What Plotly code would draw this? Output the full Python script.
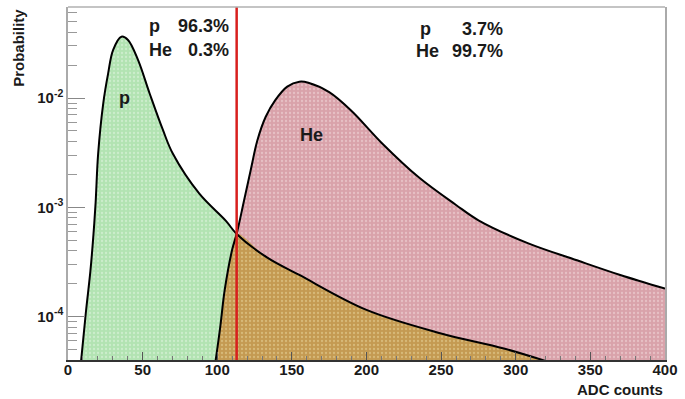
import numpy as np
import plotly.graph_objects as go

# Probability distributions of ADC counts for protons and helium
p_adc = [8.5, 12, 15, 17, 18.5, 20.2, 23.6, 26.9, 30.2, 35.8, 40.2, 46.9, 54.7, 63.6, 70.2,
         88, 105.8, 113, 133, 155, 200, 250, 292, 323]
p_prob = [3.6e-5, 1.1e-4, 2.6e-4, 5.5e-4, 1.1e-3, 3.1e-3, 8.9e-3, 1.68e-2, 2.75e-2, 3.64e-2,
          3.4e-2, 2.23e-2, 1.1e-2, 5.1e-3, 3.1e-3,
          1.33e-3, 7.5e-4, 5.7e-4, 3.5e-4, 2.4e-4, 1.15e-4, 7.0e-5, 5.1e-5, 3.8e-5]

he_adc = [98.5, 102, 105, 110, 113, 118, 122.4, 126.9, 132.4, 139, 146.9, 155, 161, 175, 190,
          210, 235, 260, 275, 308, 341, 370, 400]
he_prob = [3.6e-5, 8e-5, 1.75e-4, 4.1e-4, 5.7e-4, 1.16e-3, 2.18e-3, 4.1e-3, 6.7e-3, 9.6e-3,
           1.27e-2, 1.41e-2, 1.38e-2, 1.13e-2, 7.6e-3, 3.9e-3, 1.88e-3, 1.05e-3, 7.6e-4,
           4.7e-4, 3.27e-4, 2.4e-4, 1.8e-4]

# Selection cut and fractions on each side
x_cut = 113
left_text = [("p", "96.3%"), ("He", "0.3%")]
right_text = [("p", "3.7%"), ("He", "99.7%")]

x_ticks = [0, 50, 100, 150, 200, 250, 300, 350, 400]
y_ticks = [1e-4, 1e-3, 1e-2]
y_ticktext = ["10<sup>-4</sup>", "10<sup>-3</sup>", "10<sup>-2</sup>"]

floor = 1e-5
y_range = [-4.398, -1.167]

# Overlap region: lower envelope of the two curves
ov_x = [x for x in he_adc if x <= x_cut] + [x for x in p_adc if x > x_cut]
ov_y = [y for x, y in zip(he_adc, he_prob) if x <= x_cut] + \
       [y for x, y in zip(p_adc, p_prob) if x > x_cut]

GREEN = "#b2e3b2"
PINK = "#d9a2aa"
BROWN = "#c49a52"
SMOOTH = 1.0

fig = go.Figure()


def baseline():
    fig.add_trace(go.Scatter(x=[0, 400], y=[floor, floor], mode="lines",
                             line=dict(width=0), hoverinfo="skip", showlegend=False))


def filled(x, y, color, fg):
    baseline()
    fig.add_trace(go.Scatter(x=x, y=y, mode="lines", fill="tonexty",
                             line=dict(width=0, shape="spline", smoothing=SMOOTH),
                             fillcolor=color,
                             fillpattern=dict(shape=".", bgcolor=color, fgcolor=fg,
                                              size=4, solidity=0.25),
                             hoverinfo="skip", showlegend=False))


filled(p_adc, p_prob, GREEN, "#e6f6e6")
filled(he_adc, he_prob, PINK, "#f3dde0")
filled(ov_x, ov_y, BROWN, "#ead8a0")

for xs, ys in [(p_adc, p_prob), (he_adc, he_prob)]:
    fig.add_trace(go.Scatter(x=xs, y=ys, mode="lines",
                             line=dict(color="black", width=2, shape="spline", smoothing=SMOOTH),
                             hoverinfo="skip", showlegend=False))

# Cut line
fig.add_shape(type="line", x0=x_cut, x1=x_cut, y0=0, y1=1, xref="x", yref="paper",
              line=dict(color="#d8201e", width=2.5))
# Top frame line
fig.add_shape(type="line", x0=0, x1=1, y0=1, y1=1, xref="paper", yref="paper",
              line=dict(color="#b0b0b0", width=1.5))

bold = dict(family="Liberation Sans, Arial, sans-serif", color="#1a1a1a")

# Fraction labels
for i, (name, val) in enumerate(left_text):
    yy = 0.945 - i * 0.068
    fig.add_annotation(x=0.133, y=yy, xref="paper", yref="paper", text=f"<b>{name}</b>",
                       showarrow=False, xanchor="left", yanchor="middle", font=dict(size=18, **bold))
    fig.add_annotation(x=0.273, y=yy, xref="paper", yref="paper", text=f"<b>{val}</b>",
                       showarrow=False, xanchor="right", yanchor="middle", font=dict(size=18, **bold))
for i, (name, val) in enumerate(right_text):
    yy = 0.937 - i * 0.062
    fig.add_annotation(x=0.586 if i == 0 else 0.58, y=yy, xref="paper", yref="paper",
                       text=f"<b>{name}</b>", showarrow=False, xanchor="left", yanchor="middle",
                       font=dict(size=18, **bold))
    fig.add_annotation(x=0.732, y=yy, xref="paper", yref="paper", text=f"<b>{val}</b>",
                       showarrow=False, xanchor="right", yanchor="middle", font=dict(size=18, **bold))

# Curve labels
fig.add_annotation(x=38, y=np.log10(1.0e-2), text="<b>p</b>", showarrow=False,
                   font=dict(size=18, **bold))
fig.add_annotation(x=163, y=np.log10(4.6e-3), text="<b>He</b>", showarrow=False,
                   font=dict(size=18, **bold))

# Axis titles
fig.add_annotation(x=-0.084, y=1.0, xref="paper", yref="paper", text="<b>Probability</b>",
                   textangle=-90, showarrow=False, xanchor="center", yanchor="top",
                   font=dict(size=15, **bold))
fig.add_annotation(x=1.0, y=-0.083, xref="paper", yref="paper", text="<b>ADC counts</b>",
                   showarrow=False, xanchor="right", yanchor="middle",
                   font=dict(size=15, **bold))

fig.update_xaxes(range=[0, 400], tickvals=x_ticks, ticktext=[f"<b>{v}</b>" for v in x_ticks],
                 ticks="inside", ticklen=8, tickcolor="#555", showline=True, linecolor="#333",
                 linewidth=1.5, showgrid=False, zeroline=False, ticklabelstandoff=-5,
                 minor=dict(ticks="inside", ticklen=4, dtick=10, tickcolor="#777"),
                 tickfont=dict(size=15, **bold))
fig.update_yaxes(type="log", range=y_range, tickvals=y_ticks,
                 ticktext=[f"<b>{t}</b>" for t in y_ticktext],
                 ticks="inside", ticklen=17, tickcolor="#888", showline=True, linecolor="#aaa",
                 linewidth=1.5, mirror=True, showgrid=False, zeroline=False,
                 minor=dict(ticks="inside", ticklen=9, dtick="D1", tickcolor="#999"),
                 tickfont=dict(size=15, **bold))

fig.update_layout(width=685, height=399, margin=dict(l=68, r=17, t=7, b=39),
                  plot_bgcolor="white", paper_bgcolor="white")

fig.write_html("out.html")
